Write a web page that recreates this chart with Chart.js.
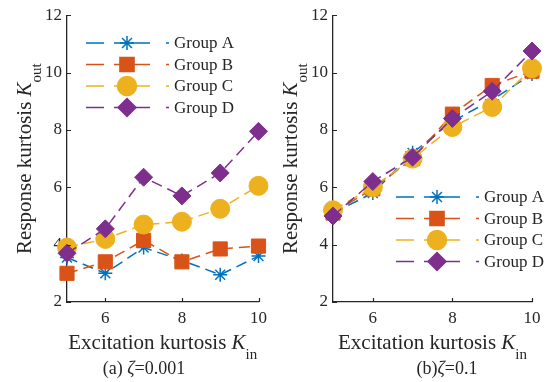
<!DOCTYPE html>
<html>
<head>
<meta charset="utf-8">
<script src="https://cdn.jsdelivr.net/npm/chart.js@4.4.1/dist/chart.umd.min.js"></script>
<style>
  body { margin: 0; background: #fff; }
  #wrap { position: relative; width: 547px; height: 382px; }
  canvas { position: absolute; top: 0; }
</style>
</head>
<body>
<div id="wrap">
  <canvas id="chartLow" width="273" height="382" style="left:0"></canvas>
  <canvas id="chartHigh" width="274" height="382" style="left:273px"></canvas>
</div>
<script>
// excitation kurtosis (x)
var kIn = [5, 6, 7, 8, 9, 10];
var groupNames = ['Group A', 'Group B', 'Group C', 'Group D'];

// response kurtosis, zeta = 0.001
var lowA = [3.55, 3.0, 3.9, 3.45, 2.95, 3.6];
var lowB = [3.0, 3.4, 4.15, 3.4, 3.85, 3.95];
var lowC = [3.9, 4.2, 4.7, 4.8, 5.25, 6.05];
var lowD = [3.7, 4.55, 6.35, 5.7, 6.5, 7.95];

// response kurtosis, zeta = 0.1
var highA = [5.1, 5.8, 7.2, 8.3, 9.05, 9.95];
var highB = [5.1, 5.95, 7.0, 8.55, 9.55, 10.05];
var highC = [5.2, 6.0, 7.0, 8.1, 8.8, 10.15];
var highD = [5.0, 6.2, 7.05, 8.4, 9.35, 10.75];

var xTicks = [6, 8, 10];
var yTicks = [2, 4, 6, 8, 10, 12];

var colors = ['#0072BD', '#D95319', '#EDB120', '#7E2F8E'];
var markers = [
  { style: 'star', r: 7 },
  { style: 'rect', r: 10 },
  { style: 'circle', r: 9.5 },
  { style: 'rectRot', r: 9 }
];
var serif = "'Liberation Serif', 'Times New Roman', serif";
var textColor = '#262626';

// draws a row of text pieces (normal / italic / subscript) centred on cx
function drawPieces(ctx, pieces, cx, baseline) {
  var total = 0;
  pieces.forEach(function (p) {
    ctx.font = p.font;
    p.w = ctx.measureText(p.t).width;
    total += p.w;
  });
  var x = cx - total / 2;
  ctx.textAlign = 'left';
  ctx.textBaseline = 'alphabetic';
  pieces.forEach(function (p) {
    ctx.font = p.font;
    ctx.fillText(p.t, x, baseline + (p.dy || 0));
    x += p.w;
  });
}

var decorPlugin = {
  id: 'decor',
  afterDraw: function (chart, args, opts) {
    var ctx = chart.ctx;
    var area = chart.chartArea;
    var xs = chart.scales.x, ys = chart.scales.y;
    ctx.save();

    // inward tick marks
    ctx.strokeStyle = textColor;
    ctx.lineWidth = 1.2;
    ctx.beginPath();
    xTicks.forEach(function (v) {
      var px = Math.round(xs.getPixelForValue(v)) + 0.5;
      ctx.moveTo(px, area.bottom);
      ctx.lineTo(px, area.bottom - 4);
    });
    yTicks.forEach(function (v) {
      var py = Math.round(ys.getPixelForValue(v)) + 0.5;
      ctx.moveTo(area.left, py);
      ctx.lineTo(area.left + 4, py);
    });
    ctx.stroke();

    ctx.fillStyle = textColor;
    var cx = (area.left + area.right) / 2;

    // x axis title
    drawPieces(ctx, [
      { t: 'Excitation kurtosis ', font: '21px ' + serif },
      { t: 'K', font: 'italic 21px ' + serif },
      { t: 'in', font: '15px ' + serif, dy: 10 }
    ], cx, 349);

    // y axis title
    ctx.save();
    ctx.translate(opts.yTitleX, (area.top + area.bottom) / 2);
    ctx.rotate(-Math.PI / 2);
    drawPieces(ctx, [
      { t: 'Response kurtosis ', font: '21px ' + serif },
      { t: 'K', font: 'italic 21px ' + serif },
      { t: 'out', font: '15px ' + serif, dy: 10 }
    ], 0, 0);
    ctx.restore();

    // caption under the panel
    drawPieces(ctx, [
      { t: opts.capLead, font: '18px ' + serif },
      { t: 'ζ', font: 'italic 18px ' + serif },
      { t: opts.capValue, font: '18px ' + serif }
    ], opts.capX, 374);

    // legend: dashed sample, marker, label
    var lg = opts.legend;
    chart.data.datasets.forEach(function (ds, i) {
      var y = lg.top + i * 21.5;
      ctx.strokeStyle = colors[i];
      ctx.lineWidth = 1.5;
      ctx.setLineDash([18, 10, 36, 16, 3, 40]);
      ctx.beginPath();
      ctx.moveTo(lg.x, y);
      ctx.lineTo(lg.x + 83, y);
      ctx.stroke();
      ctx.setLineDash([]);
      ctx.fillStyle = colors[i];
      Chart.helpers.drawPoint(ctx, {
        pointStyle: markers[i].style,
        radius: markers[i].r,
        borderWidth: markers[i].style === 'star' ? 1.5 : 1,
        rotation: 0
      }, lg.x + 41, y);
      ctx.fillStyle = textColor;
      ctx.font = '17px ' + serif;
      ctx.textAlign = 'left';
      ctx.textBaseline = 'middle';
      ctx.fillText(groupNames[i], lg.x + 88, y + 1);
    });

    ctx.restore();
  }
};

function makeChart(id, series, cfg) {
  var datasets = series.map(function (vals, i) {
    return {
      label: groupNames[i],
      data: kIn.map(function (k, j) { return { x: k, y: vals[j] }; }),
      borderColor: colors[i],
      backgroundColor: colors[i],
      borderWidth: 1.5,
      borderDash: [11, 6],
      pointStyle: markers[i].style,
      pointRadius: markers[i].r,
      pointBorderWidth: markers[i].style === 'star' ? 1.5 : 1,
      pointBackgroundColor: colors[i],
      pointBorderColor: colors[i],
      tension: 0,
      clip: false,
      order: 3 - i
    };
  });

  var tickFont = { family: serif, size: 17 };

  return new Chart(document.getElementById(id), {
    type: 'line',
    data: { datasets: datasets },
    plugins: [decorPlugin],
    options: {
      responsive: false,
      animation: false,
      layout: { padding: { top: 12, right: cfg.padRight, left: 0, bottom: 0 } },
      plugins: {
        legend: { display: false },
        tooltip: { enabled: false },
        decor: cfg.decor
      },
      scales: {
        x: {
          type: 'linear',
          min: 5,
          max: 10,
          afterBuildTicks: function (s) { s.ticks = xTicks.map(function (v) { return { value: v }; }); },
          afterFit: function (s) { s.height = 80; },
          grid: { display: false, drawTicks: false },
          border: { display: true, color: textColor, width: 1.3 },
          ticks: { font: tickFont, color: textColor, padding: 6, maxRotation: 0, autoSkip: false }
        },
        y: {
          min: 2,
          max: 12,
          afterBuildTicks: function (s) { s.ticks = yTicks.map(function (v) { return { value: v }; }); },
          afterFit: function (s) { s.width = cfg.yWidth; },
          grid: { display: false, drawTicks: false },
          border: { display: true, color: textColor, width: 1.3 },
          ticks: { font: tickFont, color: textColor, padding: 5, autoSkip: false }
        }
      }
    }
  });
}

makeChart('chartLow', [lowA, lowB, lowC, lowD], {
  yWidth: 67,
  padRight: 8,
  decor: {
    yTitleX: 31,
    capLead: '(a) ',
    capValue: '=0.001',
    capX: 144,
    legend: { x: 86, top: 43 }
  }
});

makeChart('chartHigh', [highA, highB, highC, highD], {
  yWidth: 60,
  padRight: 15,
  decor: {
    yTitleX: 24,
    capLead: '(b)',
    capValue: '=0.1',
    capX: 174,
    legend: { x: 123, top: 197 }
  }
});
</script>
</body>
</html>
